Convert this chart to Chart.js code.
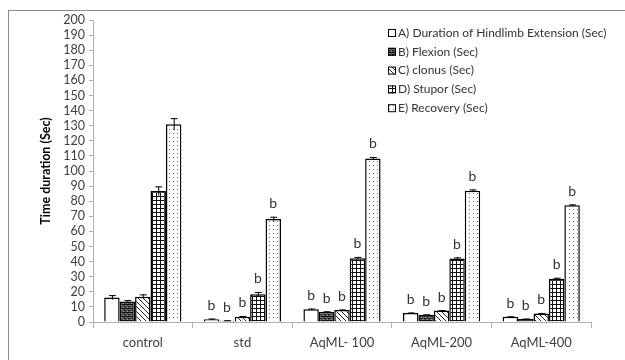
<!DOCTYPE html>
<html>
<head>
<meta charset="utf-8">
<script src="https://cdn.jsdelivr.net/npm/chart.js@4"></script>
<style>
  html, body { margin: 0; padding: 0; background: #fff; }
  #wrap { position: relative; width: 625px; height: 360px; }
  #frame {
    position: absolute; left: 8px; top: 10px; width: 617px; height: 350px;
    border-top: 1px solid #8c8c8c; border-left: 1px solid #8c8c8c;
    pointer-events: none;
  }
  canvas { position: absolute; left: 0; top: 0; }
</style>
</head>
<body>
<div id="wrap">
  <canvas id="chart" width="625" height="360"></canvas>
  <div id="frame"></div>
</div>
<script>
const groups = ["control", "std", "AqML- 100", "AqML-200", "AqML-400"];
const seriesNames = [
  "A) Duration of Hindlimb Extension (Sec)",
  "B) Flexion (Sec)",
  "C) clonus (Sec)",
  "D) Stupor (Sec)",
  "E) Recovery (Sec)",
];

const hindlimb = [16.3, 1.8, 8.4, 6.0, 3.5];
const flexion = [13.5, 0.9, 6.8, 4.8, 2.0];
const clonus = [16.8, 3.5, 8.0, 7.6, 5.7];
const stupor = [86.8, 18.4, 42.3, 42.0, 28.7];
const recovery = [131, 68.2, 108.3, 87, 77.3];

const hindlimbErr = [1.5, 0.5, 0.5, 0.3, 0.3];
const flexionErr = [1.0, 0.3, 0.3, 0.3, 0.3];
const clonusErr = [1.5, 0.5, 0.3, 0.3, 0.3];
const stuporErr = [3.0, 1.5, 0.8, 0.8, 0.6];
const recoveryErr = [4.0, 1.5, 1.0, 0.8, 0.6];

// significance letters per group
const sigMarks = ["", "b", "b", "b", "b"];

const yTicks = [0, 10, 20, 30, 40, 50, 60, 70, 80, 90, 100, 110, 120, 130, 140, 150, 160, 170, 180, 190, 200];

const FONT = "Lato, 'Open Sans', sans-serif";

function makePattern(size, draw) {
  const c = document.createElement("canvas");
  c.width = size;
  c.height = size;
  const ctx = c.getContext("2d");
  ctx.fillStyle = "#fff";
  ctx.fillRect(0, 0, size, size);
  draw(ctx);
  return document.getElementById("chart").getContext("2d").createPattern(c, "repeat");
}

const patterns = {
  plain: "#ffffff",
  dense: makePattern(4, (ctx) => {
    ctx.fillStyle = "#555";
    ctx.fillRect(0, 0, 4, 4);
    ctx.fillStyle = "#111";
    ctx.fillRect(0, 0, 4, 1);
    ctx.fillRect(0, 2, 2, 1);
    ctx.fillStyle = "#999";
    ctx.fillRect(1, 1, 1, 1);
    ctx.fillRect(3, 3, 1, 1);
  }),
  diagonal: makePattern(5, (ctx) => {
    ctx.fillStyle = "#222";
    for (let i = 0; i < 5; i++) ctx.fillRect(i, i, 1, 1);
  }),
  grid: makePattern(4, (ctx) => {
    ctx.fillStyle = "#111";
    ctx.fillRect(0, 0, 4, 1);
    ctx.fillRect(0, 0, 1, 4);
  }),
  dots: makePattern(4, (ctx) => {
    ctx.fillStyle = "#777";
    ctx.fillRect(1, 1, 1, 1);
  }),
};

const seriesValues = [hindlimb, flexion, clonus, stupor, recovery];
const seriesErrors = [hindlimbErr, flexionErr, clonusErr, stuporErr, recoveryErr];
const seriesFills = [patterns.plain, patterns.dense, patterns.diagonal, patterns.grid, patterns.dots];

const errorBarsAndMarks = {
  id: "errorBarsAndMarks",
  afterDatasetsDraw(chart) {
    const ctx = chart.ctx;
    const y = chart.scales.y;
    ctx.save();
    chart.data.datasets.forEach((ds, di) => {
      const meta = chart.getDatasetMeta(di);
      meta.data.forEach((bar, i) => {
        const v = ds.data[i];
        const e = seriesErrors[di][i];
        const top = y.getPixelForValue(v + e);
        const bot = y.getPixelForValue(v - e);
        ctx.strokeStyle = "#000";
        ctx.lineWidth = 1;
        ctx.beginPath();
        ctx.moveTo(bar.x + 0.5, top);
        ctx.lineTo(bar.x + 0.5, bot);
        ctx.moveTo(bar.x - 3, top + 0.5);
        ctx.lineTo(bar.x + 4, top + 0.5);
        ctx.stroke();

        const mark = sigMarks[i];
        if (mark) {
          ctx.fillStyle = "#333";
          ctx.font = "14px " + FONT;
          ctx.textAlign = "center";
          ctx.textBaseline = "bottom";
          ctx.fillText(mark, bar.x, top - 6);
        }
      });
    });
    ctx.restore();
  },
};

const boxLegend = {
  id: "boxLegend",
  afterDraw(chart) {
    const ctx = chart.ctx;
    ctx.save();
    ctx.font = "12px " + FONT;
    ctx.textBaseline = "middle";
    ctx.textAlign = "left";
    chart.data.datasets.forEach((ds, i) => {
      const cy = 33 + i * 18.8;
      ctx.fillStyle = ds.backgroundColor;
      ctx.fillRect(388, cy - 4, 8, 8);
      ctx.strokeStyle = "#000";
      ctx.lineWidth = 1;
      ctx.strokeRect(388.5, cy - 3.5, 7, 7);
      ctx.fillStyle = "#333";
      ctx.fillText(ds.label, 398, cy);
    });
    ctx.restore();
  },
};

new Chart(document.getElementById("chart"), {
  type: "bar",
  data: {
    labels: groups,
    datasets: seriesNames.map((name, i) => ({
      label: name,
      data: seriesValues[i],
      backgroundColor: seriesFills[i],
      borderColor: "#000",
      borderWidth: 1.5,
      categoryPercentage: 0.775,
      barPercentage: 1.0,
    })),
  },
  options: {
    responsive: false,
    animation: false,
    layout: { padding: { left: 36, right: 34, top: 20, bottom: 0 } },
    plugins: {
      legend: { display: false },
      tooltip: { enabled: false },
    },
    scales: {
      x: {
        grid: { display: true, drawOnChartArea: false, drawTicks: true, tickLength: 6, color: "#b0b0b0", offset: true },
        border: { color: "#b0b0b0" },
        ticks: { color: "#404040", font: { family: FONT, size: 13 }, padding: 7, maxRotation: 0 },
        afterFit: (scale) => { scale.height = 38; },
      },
      y: {
        min: 0,
        max: 200,
        afterBuildTicks: (scale) => { scale.ticks = yTicks.map((v) => ({ value: v })); },
        grid: { display: true, drawOnChartArea: false, drawTicks: true, tickLength: 4, color: "#b0b0b0" },
        border: { color: "#b0b0b0" },
        ticks: { color: "#404040", font: { family: FONT, size: 12.5 }, padding: 4, autoSkip: false },
        title: { display: true, text: "Time duration (Sec)", color: "#000", font: { family: FONT, size: 12.5, weight: "bold" }, padding: 2 },
        afterFit: (scale) => { scale.width = 57; },
      },
    },
  },
  plugins: [errorBarsAndMarks, boxLegend],
});
</script>
</body>
</html>
